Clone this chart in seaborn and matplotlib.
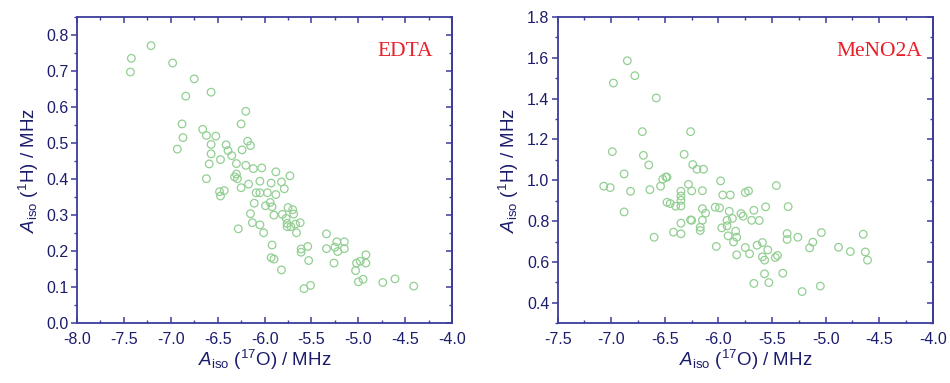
import matplotlib
matplotlib.use("Agg")
import matplotlib.pyplot as plt
from matplotlib.ticker import MultipleLocator, AutoMinorLocator
import seaborn as sns
import pandas as pd

# EDTA panel: A_iso(17O) vs A_iso(1H)
edta_o = [-7.42, -7.43, -7.21, -6.98, -6.75, -6.84, -6.57, -6.88, -6.87, -6.93,
          -6.20, -6.25, -6.66, -6.62, -6.52, -6.57, -6.57, -6.59, -6.62, -6.47,
          -6.41, -6.39, -6.35, -6.30, -6.24, -6.18, -6.15, -6.20, -6.12, -6.03,
          -6.30, -6.29, -6.32, -6.25, -6.17, -6.48, -6.43, -6.47, -6.05, -6.09,
          -6.05, -5.97, -5.93, -5.88, -5.82, -5.79, -5.73, -5.88, -5.94, -5.99,
          -5.92, -5.90, -6.11, -6.15, -6.13, -6.05, -6.01, -6.28, -5.81, -5.77,
          -5.75, -5.70, -5.69, -5.76, -5.76, -5.72, -5.67, -5.62, -5.66, -5.92,
          -5.93, -5.90, -5.82, -5.61, -5.61, -5.54, -5.53, -5.58, -5.51, -5.34,
          -5.34, -5.26, -5.25, -5.22, -5.23, -5.15, -5.15, -5.03, -5.02, -4.98,
          -4.92, -4.92, -5.00, -4.95, -4.74, -4.61, -4.41]
edta_h = [0.735, 0.697, 0.770, 0.722, 0.678, 0.630, 0.641, 0.553, 0.515, 0.483,
          0.588, 0.553, 0.538, 0.521, 0.519, 0.496, 0.470, 0.442, 0.401, 0.454,
          0.495, 0.479, 0.465, 0.443, 0.481, 0.505, 0.493, 0.438, 0.429, 0.431,
          0.414, 0.401, 0.406, 0.376, 0.386, 0.365, 0.368, 0.353, 0.394, 0.362,
          0.362, 0.362, 0.389, 0.420, 0.392, 0.373, 0.409, 0.357, 0.335, 0.326,
          0.323, 0.300, 0.333, 0.304, 0.279, 0.273, 0.251, 0.262, 0.302, 0.291,
          0.321, 0.315, 0.303, 0.277, 0.268, 0.268, 0.275, 0.279, 0.251, 0.217,
          0.182, 0.178, 0.148, 0.206, 0.197, 0.213, 0.174, 0.096, 0.105, 0.248,
          0.207, 0.167, 0.211, 0.199, 0.226, 0.226, 0.207, 0.146, 0.167, 0.172,
          0.190, 0.167, 0.115, 0.122, 0.113, 0.123, 0.103]

# MeNO2A panel
meno_o = [-6.85, -6.78, -6.98, -6.58, -6.71, -6.26, -6.99, -6.70, -6.32, -6.65,
          -6.24, -6.20, -6.14, -6.88, -6.49, -6.52, -6.48, -7.07, -7.01, -6.82,
          -6.64, -6.54, -6.28, -6.35, -6.25, -6.15, -5.98, -5.96, -5.89, -5.75,
          -5.72, -5.46, -6.88, -6.48, -6.45, -6.40, -6.35, -6.35, -6.35, -6.15,
          -6.12, -6.15, -6.25, -6.26, -6.35, -6.17, -6.17, -6.42, -6.35, -6.60,
          -6.03, -5.99, -5.90, -5.97, -5.92, -5.92, -5.87, -5.79, -5.77, -5.67,
          -5.56, -5.69, -5.62, -5.35, -5.84, -5.91, -5.83, -5.86, -6.02, -5.83,
          -5.75, -5.71, -5.64, -5.59, -5.59, -5.57, -5.54, -5.47, -5.45, -5.57,
          -5.40, -5.67, -5.53, -5.36, -5.36, -5.26, -5.15, -5.12, -5.04, -5.22,
          -5.05, -4.88, -4.77, -4.65, -4.63, -4.61]
meno_h = [1.585, 1.512, 1.476, 1.403, 1.238, 1.238, 1.140, 1.122, 1.127, 1.075,
          1.077, 1.054, 1.054, 1.031, 1.016, 1.005, 1.015, 0.971, 0.964, 0.946,
          0.954, 0.971, 0.980, 0.946, 0.948, 0.949, 0.997, 0.928, 0.928, 0.940,
          0.948, 0.974, 0.845, 0.892, 0.886, 0.873, 0.874, 0.902, 0.923, 0.861,
          0.839, 0.804, 0.804, 0.806, 0.790, 0.770, 0.754, 0.746, 0.738, 0.721,
          0.868, 0.865, 0.848, 0.767, 0.777, 0.804, 0.813, 0.837, 0.824, 0.853,
          0.870, 0.804, 0.803, 0.871, 0.751, 0.728, 0.721, 0.698, 0.676, 0.635,
          0.671, 0.640, 0.682, 0.695, 0.625, 0.609, 0.659, 0.622, 0.632, 0.542,
          0.545, 0.495, 0.499, 0.710, 0.739, 0.721, 0.669, 0.697, 0.744, 0.455,
          0.482, 0.672, 0.651, 0.736, 0.649, 0.609]

panels = [
    ("EDTA", edta_o, edta_h, (-8.0, -4.0), (0.0, 0.85), 0.1, 0.950),
    ("MeNO2A", meno_o, meno_h, (-7.5, -4.0), (0.3, 1.8), 0.2, 0.971),
]

AXIS_COLOR = "#3c3c9c"
TEXT_COLOR = "#1c1c6c"
POINT_COLOR = "#93cf93"

sns.set_style("white")
plt.rcParams["font.family"] = ["Liberation Sans", "DejaVu Sans"]
plt.rcParams["mathtext.fontset"] = "custom"
plt.rcParams["mathtext.rm"] = "Liberation Sans"
plt.rcParams["mathtext.it"] = "Liberation Sans:italic"

fig = plt.figure(figsize=(9.5, 3.83), dpi=100)
axes = [fig.add_axes([0.081, 0.156, 0.395, 0.80]),
        fig.add_axes([0.587, 0.156, 0.395, 0.80])]

for ax, (name, xo, yh, xlim, ylim, ystep, tx) in zip(axes, panels):
    df = pd.DataFrame({"O": xo, "H": yh})
    sns.scatterplot(data=df, x="O", y="H", ax=ax, marker="o", s=30,
                    fc="none", ec=POINT_COLOR, linewidth=0.9)
    ax.set_xlim(*xlim)
    ax.set_ylim(*ylim)
    ax.xaxis.set_major_locator(MultipleLocator(0.5))
    ax.yaxis.set_major_locator(MultipleLocator(ystep))
    ax.xaxis.set_minor_locator(AutoMinorLocator(2))
    ax.yaxis.set_minor_locator(AutoMinorLocator(2))
    ax.xaxis.set_major_formatter(matplotlib.ticker.FormatStrFormatter("%.1f"))
    ax.yaxis.set_major_formatter(matplotlib.ticker.FormatStrFormatter("%.1f"))
    for sp in ax.spines.values():
        sp.set_color(AXIS_COLOR)
        sp.set_linewidth(1.3)
    ax.tick_params(axis="x", which="both", direction="in", top=True,
                   bottom=True, color=AXIS_COLOR, labelcolor=TEXT_COLOR,
                   labelsize=11.5, pad=6)
    ax.tick_params(axis="y", which="both", direction="out", left=True,
                   right=False, color=AXIS_COLOR, labelcolor=TEXT_COLOR,
                   labelsize=11.5, pad=2)
    ax.tick_params(which="major", length=4, width=1.1)
    ax.tick_params(which="minor", length=2.5, width=1.0)
    sec = ax.secondary_yaxis("right")
    sec.yaxis.set_major_locator(MultipleLocator(ystep))
    sec.yaxis.set_minor_locator(AutoMinorLocator(2))
    sec.spines["right"].set_color(AXIS_COLOR)
    sec.spines["right"].set_linewidth(1.3)
    sec.tick_params(which="both", direction="in", color=AXIS_COLOR,
                    labelright=False)
    sec.tick_params(which="major", length=4, width=1.1)
    sec.tick_params(which="minor", length=2.5, width=1.0)
    ax.set_xlabel(r"$\mathit{A}_{\mathrm{iso}}$ ($^{17}$O) / MHz",
                  fontsize=13.5, color=TEXT_COLOR, labelpad=1)
    ax.set_ylabel(r"$\mathit{A}_{\mathrm{iso}}$ ($^{1}$H) / MHz",
                  fontsize=13.5, color=TEXT_COLOR, labelpad=4)
    ax.text(tx, 0.886, name, transform=ax.transAxes, ha="right", va="center",
            fontsize=15.5, color="#e8202a", family="Liberation Serif")

fig.savefig("out.png", dpi=100)
